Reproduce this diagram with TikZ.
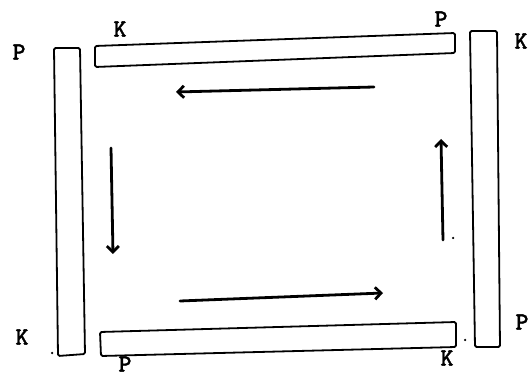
\documentclass[tikz,border=0pt]{standalone}
\usepackage{fontspec}
\newfontfamily\typfont{lmmonolt10-bold}[Extension=.otf, FakeBold=1.2]
\usetikzlibrary{arrows.meta}

\begin{document}
\begin{tikzpicture}[x=1pt, y=-1pt, >={Straight Barb[length=6pt,width=12pt]},
  bar/.style={draw, line width=1.8pt, line join=round, rounded corners=1.5pt},
  flow/.style={->, line width=2.8pt, line cap=round},
  lbl/.style={font=\typfont\fontsize{25}{25}\selectfont, inner sep=0pt},
  fleck/.style={fill, circle, inner sep=0pt, minimum size=2.5pt}]

\useasboundingbox (0,0) rectangle (531,377);

% Stäbe
\draw[bar] (95,46) -- (455,33) -- (455,53) -- (95,67) -- cycle;    % oben
\draw[bar] (100,332) -- (456,322) -- (456,347) -- (101,356) -- cycle; % unten
\draw[bar] (54,48) -- (80,48) -- (85,354) -- (58,356) -- cycle;    % links
\draw[bar] (470,31) -- (497,31) -- (500,347) -- (475,347) -- cycle; % rechts

% Pfeile: Umlauf
\coordinate (t1) at (374,87);  \coordinate (t2) at (176,92);
\coordinate (l1) at (111,148); \coordinate (l2) at (113,254);
\coordinate (b1) at (180,301); \coordinate (b2) at (383,293);
\coordinate (r1) at (443,240); \coordinate (r2) at (441,139);
\draw[flow] (t1) -- (t2);
\draw[flow] (l1) -- (l2);
\draw[flow] (b1) -- (b2);
\draw[flow] (r1) -- (r2);

% Beschriftung
\node[lbl] (kto) at (120,29)  {K};
\node[lbl] (pto) at (441,19)  {P};
\node[lbl] (pli) at (19,52)   {P};
\node[lbl] (kre) at (521,41)  {K};
\node[lbl] (kli) at (22,337)  {K};
\node[lbl] (pun) at (125,364) {P};
\node[lbl] (kun) at (447,358) {K};
\node[lbl] (pre) at (522,322) {P};

% Flecken
\node[fleck] (f1) at (453,238) {};
\node[fleck] (f2) at (465,340) {};
\node[fleck] (f3) at (52,353)  {};
\end{tikzpicture}
\end{document}
